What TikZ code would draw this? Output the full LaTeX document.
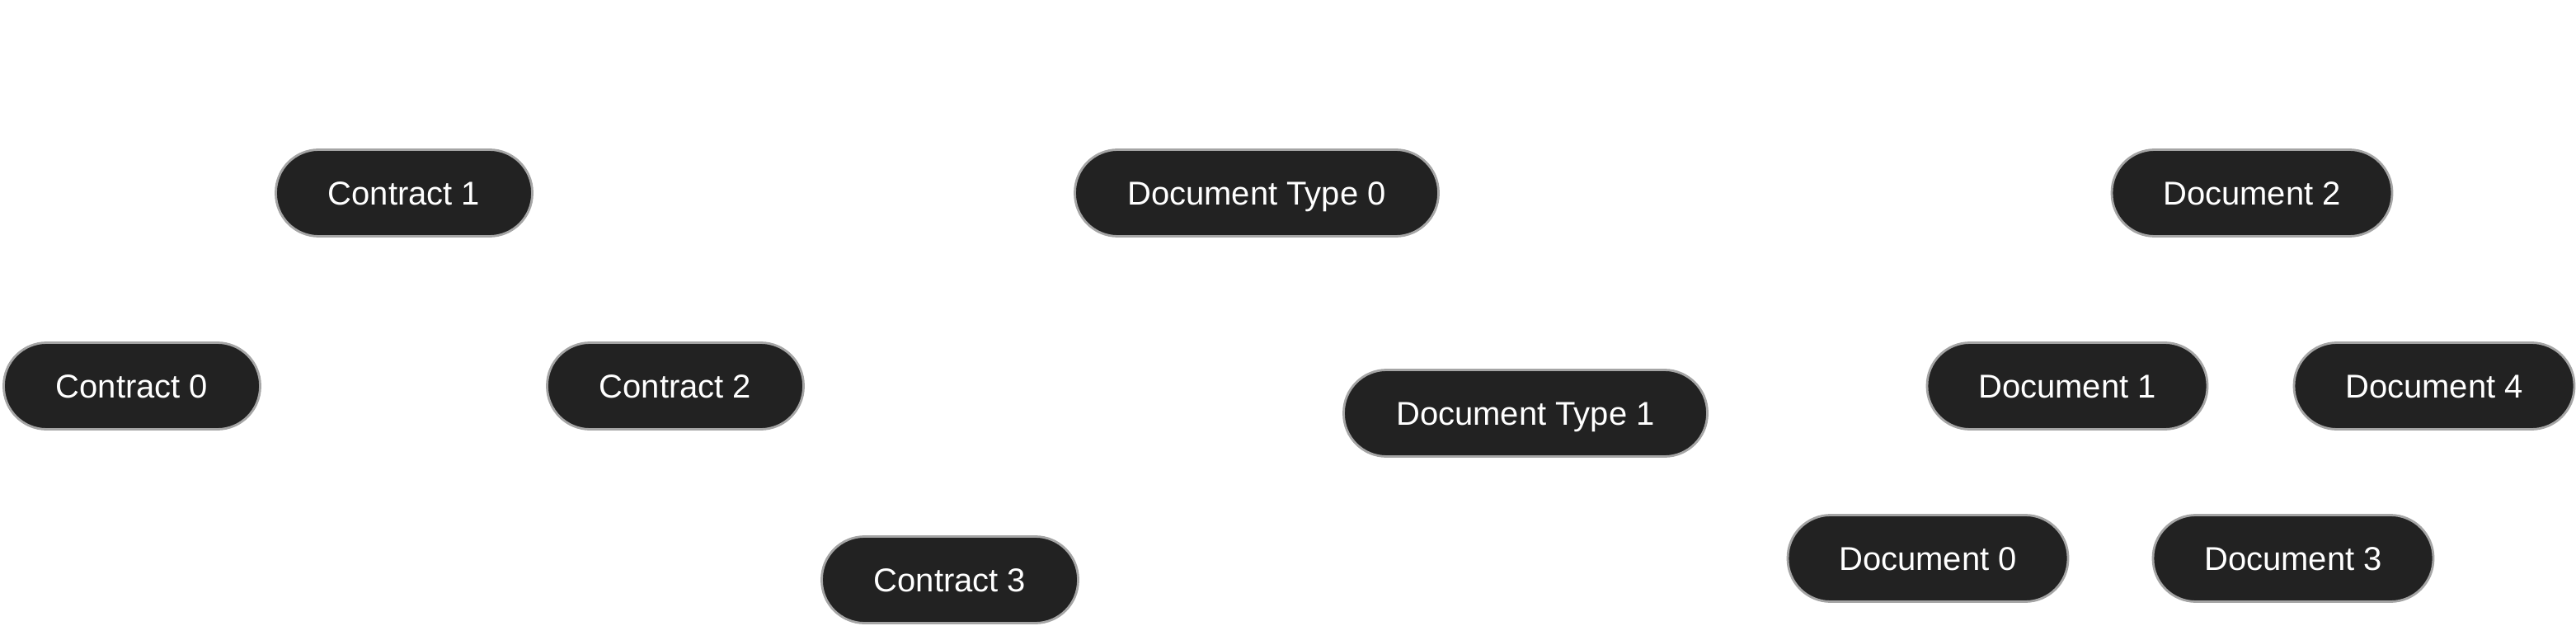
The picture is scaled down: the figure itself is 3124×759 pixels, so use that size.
\documentclass[tikz,border=0pt]{standalone}
\usepackage{fontspec}
\setmainfont{Liberation Sans}
\usepackage{xcolor}
\usetikzlibrary{positioning}
\definecolor{pilldark}{RGB}{34,34,34}
\definecolor{pillrim}{RGB}{165,165,165}

\begin{document}
\begin{tikzpicture}[x=1pt, y=-1pt,
    pill/.style={fill=pilldark, draw=pillrim, line width=2.8pt,
        rounded corners=52pt, minimum height=105pt, minimum width=#1,
        inner xsep=0pt, text height=29pt, text depth=0pt,
        text=white, font=\fontsize{40}{48}\selectfont},
    pill/.default=311pt]
                % Canvas
                \useasboundingbox (0,0) rectangle (3124,759);

                % Contracts
                \node[pill] (contract1) at (490,234) {Contract 1};
                \node[pill] (contract0) at (160,468) {Contract 0};
                \node[pill] (contract2) at (819,468) {Contract 2};
                \node[pill] (contract3) at (1152,703) {Contract 3};

                % Document types
                \node[pill=441pt] (doctype0) at (1524,234) {Document Type 0};
                \node[pill=441pt] (doctype1) at (1850,501) {Document Type 1};

                % Documents
                \node[pill=340pt] (document2) at (2731,234) {Document 2};
                \node[pill=340pt] (document1) at (2507,468) {Document 1};
                \node[pill=340pt] (document4) at (2952,468) {Document 4};
                \node[pill=340pt] (document0) at (2338,677) {Document 0};
                \node[pill=340pt] (document3) at (2781,677) {Document 3};
\end{tikzpicture}
\end{document}
